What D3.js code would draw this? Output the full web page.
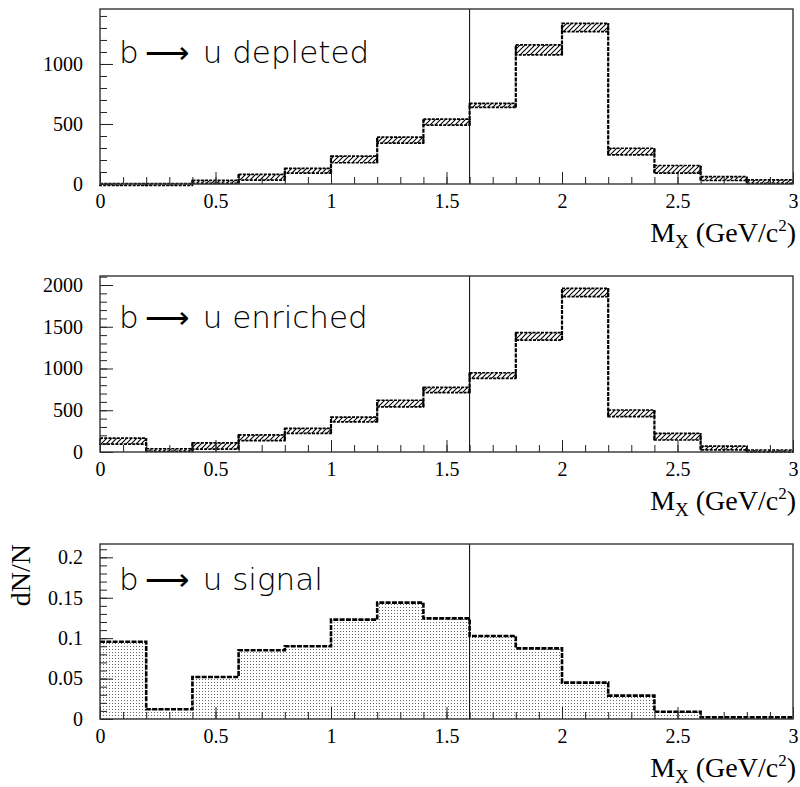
<!DOCTYPE html>
<html>
<head>
<title>Mx distributions</title>
<script src="https://d3js.org/d3.v7.min.js"></script>
<style>
    body { margin: 0; background: #fff; }
    .tick text { font-family: "Liberation Serif", serif; font-size: 20px; fill: #000; }
    .tick line { stroke: #222; stroke-width: 1; }
</style>
</head>
<body>
<div id="chart"></div>
<script>
// bins of 0.2 GeV/c^2 in Mx
const binLow = [0.0, 0.2, 0.4, 0.6, 0.8, 1.0, 1.2, 1.4, 1.6, 1.8, 2.0, 2.2, 2.4, 2.6, 2.8];
const binWidth = 0.2;

// b -> u depleted sample (value and half width of hatched band)
const depleted    = [0, 0, 18, 57, 110, 205, 365, 515, 655, 1117, 1304, 270, 122, 45, 20];
const depletedErr = [4, 4, 12, 24, 20, 28, 25, 25, 17, 42, 35, 28, 32, 16, 14];

// b -> u enriched sample
const enriched    = [130, 24, 72, 170, 254, 390, 580, 742, 916, 1385, 1910, 463, 184, 48, 12];
const enrichedErr = [35, 15, 38, 34, 30, 28, 40, 32, 33, 45, 50, 40, 40, 22, 12];

// b -> u signal (normalised)
const signal = [0.0956, 0.012, 0.052, 0.085, 0.09, 0.123, 0.144, 0.1245, 0.1027, 0.0874, 0.045, 0.0289, 0.009, 0.002, 0.002];

const xTicks = [0, 0.5, 1, 1.5, 2, 2.5, 3];
const depletedTicks = [0, 500, 1000];
const enrichedTicks = [0, 500, 1000, 1500, 2000];
const signalTicks = [0, 0.05, 0.1, 0.15, 0.2];
const cutMass = 1.6;

const width = 800, height = 787;
const left = 100, right = 793;

const svg = d3.select("#chart").append("svg")
    .attr("width", width).attr("height", height)
    .style("font-family", "Liberation Serif");

const defs = svg.append("defs");

let hatch = defs.append("pattern")
    .attr("id", "hatch")
    .attr("patternUnits", "userSpaceOnUse")
    .attr("width", 5).attr("height", 5);
hatch.append("path")
    .attr("d", "M-1,1 l2,-2 M0,5 l5,-5 M4,6 l2,-2")
    .style("stroke", "#000").style("stroke-width", 1.1);

let dots = defs.append("pattern")
    .attr("id", "dots")
    .attr("patternUnits", "userSpaceOnUse")
    .attr("width", 3).attr("height", 3);
dots.append("rect").attr("width", 3).attr("height", 3).style("fill", "#fff");
dots.append("rect").attr("x", 1).attr("y", 1).attr("width", 1).attr("height", 1).style("fill", "#666");

let x = d3.scaleLinear().domain([0, 3]).range([left, right]);

// panel layout
let panels = [
    { top: 9,   bottom: 184, ymax: 1458,  ticks: depletedTicks, minor: 100,  fmt: d3.format("d"),
      label: "u depleted", textY: 63, values: depleted, errs: depletedErr },
    { top: 276, bottom: 452, ymax: 2108,  ticks: enrichedTicks, minor: 100,  fmt: d3.format("d"),
      label: "u enriched", textY: 328, values: enriched, errs: enrichedErr },
    { top: 544, bottom: 719, ymax: 0.2165, ticks: signalTicks,  minor: 0.01, fmt: d => d === 0 ? "0" : String(+d.toFixed(2)),
      label: "u signal", textY: 590, values: signal, errs: null }
];

panels.forEach(function(p, i) {
    let y = d3.scaleLinear().domain([0, p.ymax]).range([p.bottom, p.top]);
    let g = svg.append("g").attr("id", "panel" + i);

    // histogram
    if (p.errs) {
        let bins = binLow.map((lo, k) => ({ lo: lo, v: p.values[k], e: p.errs[k] }));
        g.selectAll("rect.band").data(bins).enter().append("rect")
            .attr("class", "band")
            .attr("x", d => x(d.lo))
            .attr("width", d => x(d.lo + binWidth) - x(d.lo))
            .attr("y", d => y(d.v + d.e))
            .attr("height", d => Math.max(2, y(Math.max(0, d.v - d.e)) - y(d.v + d.e)))
            .style("fill", "url(#hatch)")
            .style("stroke", "#000").style("stroke-width", 1.7)
            .style("stroke-dasharray", "3,1.2");

        // vertical connectors between neighbouring bins
        let edges = bins.slice(1).map((d, k) => {
            let a = bins[k];
            return { x: d.lo,
                     lo: Math.max(0, Math.min(a.v - a.e, d.v - d.e)),
                     hi: Math.max(a.v + a.e, d.v + d.e) };
        });
        g.selectAll("line.edge").data(edges).enter().append("line")
            .attr("class", "edge")
            .attr("x1", d => x(d.x)).attr("x2", d => x(d.x))
            .attr("y1", d => y(d.lo)).attr("y2", d => y(d.hi))
            .style("stroke", "#000").style("stroke-width", 2.2)
            .style("stroke-dasharray", "4,1.2");
    } else {
        let pts = binLow.map((lo, k) => [lo, p.values[k]]);
        pts.push([3, p.values[p.values.length - 1]]);
        let area = d3.area().curve(d3.curveStepAfter)
            .x(d => x(d[0])).y0(y(0)).y1(d => y(d[1]));
        let line = d3.line().curve(d3.curveStepAfter)
            .x(d => x(d[0])).y(d => y(d[1]));
        g.append("path").attr("d", area(pts)).style("fill", "url(#dots)");
        g.append("path").attr("d", line(pts))
            .style("fill", "none").style("stroke", "#000").style("stroke-width", 2.6)
            .style("stroke-dasharray", "5,1.3");
    }

    // cut at 1.6
    g.append("line")
        .attr("x1", x(cutMass)).attr("x2", x(cutMass))
        .attr("y1", p.top).attr("y2", p.bottom)
        .style("stroke", "#000").style("stroke-width", 1);

    // axes - ticks point into the frame
    let minorX = d3.range(0, 3.001, 0.1);
    g.append("g").attr("transform", "translate(0," + p.bottom + ")")
        .call(d3.axisBottom(x).tickValues(minorX).tickSizeInner(-7).tickSizeOuter(0).tickFormat(""))
        .call(a => a.select(".domain").remove());
    g.append("g").attr("transform", "translate(0," + p.bottom + ")")
        .call(d3.axisBottom(x).tickValues(xTicks).tickSizeInner(-12).tickSizeOuter(0)
              .tickPadding(10).tickFormat(d3.format("")))
        .call(a => a.select(".domain").remove());

    let minorY = d3.range(0, p.ymax, p.minor);
    g.append("g").attr("transform", "translate(" + left + ",0)")
        .call(d3.axisLeft(y).tickValues(minorY).tickSizeInner(-7).tickSizeOuter(0).tickFormat(""))
        .call(a => a.select(".domain").remove());
    g.append("g").attr("transform", "translate(" + left + ",0)")
        .call(d3.axisLeft(y).tickValues(p.ticks).tickSizeInner(-13).tickSizeOuter(0)
              .tickPadding(17).tickFormat(p.fmt))
        .call(a => a.select(".domain").remove());

    // frame
    g.append("rect")
        .attr("x", left).attr("y", p.top)
        .attr("width", right - left).attr("height", p.bottom - p.top)
        .style("fill", "none").style("stroke", "#333").style("stroke-width", 1.4);

    // sample label
    let t = g.append("text")
        .attr("x", 119).attr("y", p.textY)
        .style("font-family", "DejaVu Sans").style("font-weight", 200)
        .style("font-size", "31px").style("fill", "#000");
    t.append("tspan").text("b");
    t.append("tspan").attr("dx", 6).text("\u27F6");
    t.append("tspan").attr("dx", 14).text(p.label);

    // axis title
    let xt = g.append("text")
        .attr("x", 796).attr("y", p.bottom + 58)
        .attr("text-anchor", "end")
        .style("font-family", "Liberation Serif").style("font-size", "28px");
    xt.append("tspan").text("M");
    xt.append("tspan").attr("dy", 6).style("font-size", "19px").text("X");
    xt.append("tspan").attr("dy", -6).text(" (GeV/c");
    xt.append("tspan").attr("dy", -11).style("font-size", "17px").text("2");
    xt.append("tspan").attr("dy", 11).text(")");
});

// y title on the signal panel
svg.append("text")
    .attr("transform", "translate(30,544) rotate(-90)")
    .attr("text-anchor", "end")
    .style("font-family", "Liberation Serif").style("font-size", "28px")
    .text("dN/N");
</script>
</body>
</html>
